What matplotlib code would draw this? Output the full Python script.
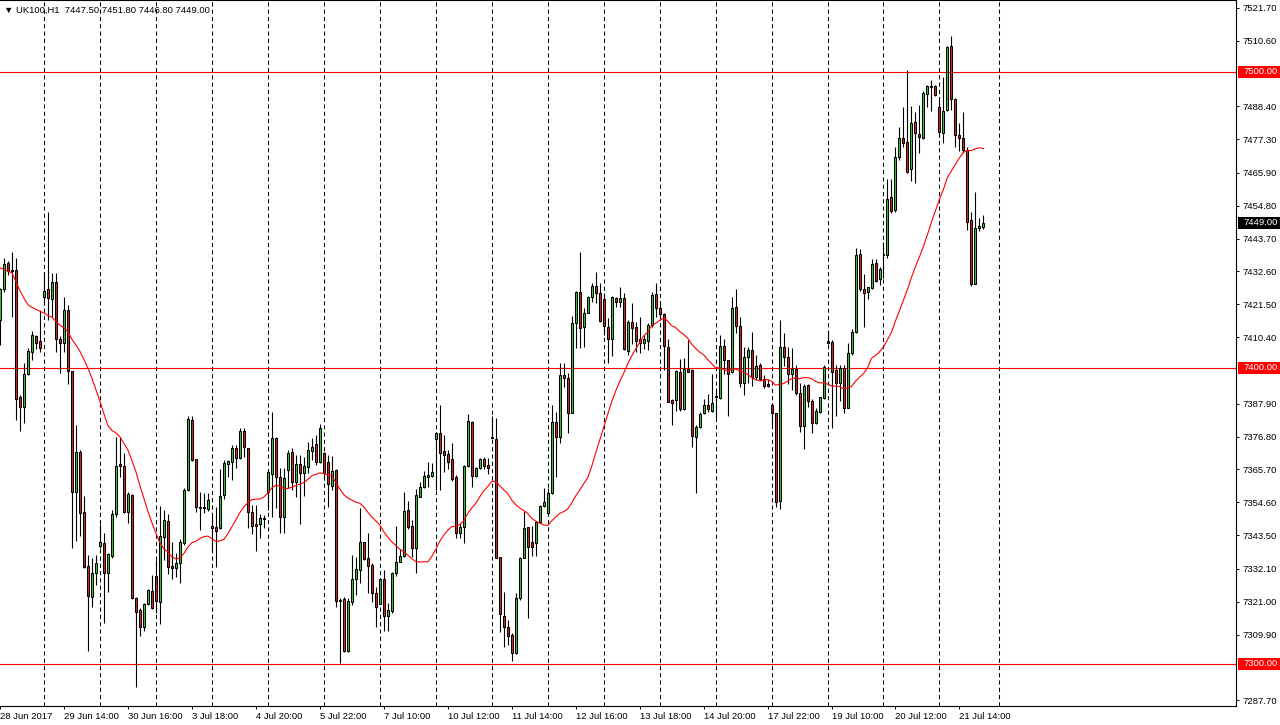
import matplotlib.pyplot as plt
import matplotlib.transforms as mtransforms
from matplotlib.patches import Rectangle
import numpy as np
import pandas as pd

symbol = 'UK100,H1'

opens = [
    7416.2, 7426.6, 7435.4, 7433.1, 7433.1, 7390.1, 7386.9, 7398.0, 7405.5, 7410.8,
    7409.1, 7423.8, 7426.6, 7423.3, 7429.0, 7409.7, 7408.5, 7419.6, 7399.0, 7358.2,
    7371.5, 7351.5, 7333.2, 7322.7, 7330.8, 7340.0, 7340.8, 7330.6, 7336.6, 7350.7,
    7367.5, 7367.0, 7351.5, 7357.1, 7322.2, 7318.2, 7312.4, 7320.2, 7324.7, 7329.7,
    7321.0, 7342.8, 7348.3, 7333.1, 7332.5, 7334.2, 7340.8, 7358.8, 7382.4, 7369.1,
    7353.1, 7353.1, 7352.2, 7346.6, 7346.2, 7345.8, 7357.1, 7367.6, 7368.3, 7372.9,
    7369.5, 7378.7, 7372.9, 7351.3, 7347.3, 7347.2, 7348.9, 7358.0, 7364.1, 7376.3,
    7363.3, 7349.6, 7365.5, 7371.7, 7361.4, 7367.6, 7364.6, 7366.4, 7372.0, 7374.3,
    7368.3, 7371.4, 7368.1, 7360.2, 7365.5, 7321.6, 7321.8, 7304.5, 7321.0, 7328.6,
    7331.8, 7341.1, 7335.7, 7333.4, 7324.1, 7320.3, 7328.6, 7316.2, 7318.0, 7330.6,
    7334.6, 7336.5, 7352.0, 7346.6, 7339.1, 7356.5, 7359.9, 7363.3, 7363.5, 7375.9,
    7377.9, 7371.9, 7371.0, 7369.1, 7363.1, 7344.2, 7346.4, 7367.0, 7381.6, 7363.5,
    7366.1, 7369.1, 7367.2, 7376.6, 7375.9, 7336.0, 7316.3, 7312.4, 7309.8, 7303.6,
    7322.2, 7335.7, 7346.2, 7341.1, 7340.8, 7348.1, 7353.5, 7350.9, 7357.7, 7381.6,
    7376.8, 7397.6, 7396.5, 7384.9, 7415.1, 7425.8, 7413.8, 7418.7, 7424.1, 7427.8,
    7425.2, 7423.2, 7413.9, 7409.7, 7423.5, 7422.2, 7423.5, 7405.8, 7415.4, 7413.9,
    7409.7, 7408.3, 7409.2, 7414.5, 7425.0, 7420.2, 7418.1, 7407.2, 7389.2, 7389.2,
    7398.7, 7386.1, 7399.7, 7399.3, 7376.8, 7380.2, 7384.9, 7387.5, 7385.5, 7390.3,
    7389.8, 7407.4, 7402.7, 7398.5, 7420.5, 7414.2, 7395.0, 7403.8, 7406.1, 7396.9,
    7400.9, 7396.2, 7394.5, 7387.5, 7384.7, 7355.2, 7407.2, 7403.6, 7397.9, 7399.6,
    7391.7, 7380.4, 7394.3, 7389.0, 7381.5, 7385.2, 7389.8, 7409.1, 7408.9, 7399.3,
    7395.0, 7399.9, 7386.6, 7405.2, 7412.3, 7438.4, 7426.6, 7425.8, 7426.9, 7435.4,
    7430.0, 7438.2, 7438.2, 7457.7, 7453.4, 7471.2, 7477.6, 7476.2, 7467.1, 7483.0,
    7479.1, 7477.8, 7492.5, 7495.0, 7495.3, 7488.1, 7479.3, 7487.2, 7508.9, 7490.8,
    7478.7, 7477.6, 7473.6, 7450.0, 7428.4, 7447.2, 7447.5,
]
highs = [
    7427.0, 7437.1, 7436.1, 7439.3, 7437.1, 7390.9, 7401.6, 7406.6, 7412.5, 7411.1,
    7419.6, 7432.5, 7452.8, 7432.0, 7432.0, 7410.8, 7423.9, 7421.3, 7399.0, 7380.7,
    7372.3, 7356.8, 7336.8, 7335.7, 7336.8, 7347.3, 7344.4, 7337.4, 7352.0, 7376.6,
    7376.6, 7371.2, 7358.1, 7357.4, 7322.6, 7318.9, 7320.6, 7325.2, 7330.1, 7335.1,
    7353.4, 7352.0, 7350.7, 7341.3, 7337.4, 7342.2, 7359.4, 7383.9, 7383.8, 7369.2,
    7358.2, 7357.7, 7357.7, 7350.3, 7353.1, 7365.7, 7368.9, 7368.9, 7374.0, 7374.0,
    7379.6, 7379.6, 7373.0, 7353.7, 7353.7, 7350.6, 7350.3, 7365.7, 7385.2, 7376.8,
    7366.1, 7366.1, 7372.3, 7372.9, 7370.6, 7370.6, 7369.8, 7375.1, 7376.3, 7377.4,
    7381.0, 7371.7, 7370.6, 7370.3, 7365.7, 7322.2, 7322.7, 7322.2, 7336.8, 7336.2,
    7352.6, 7341.3, 7344.1, 7334.0, 7326.1, 7329.0, 7331.7, 7320.5, 7331.2, 7346.6,
    7338.9, 7358.2, 7355.1, 7348.6, 7359.2, 7361.6, 7365.3, 7368.3, 7367.8, 7378.5,
    7387.5, 7377.4, 7372.3, 7374.6, 7363.8, 7347.5, 7367.2, 7384.5, 7382.2, 7366.6,
    7369.5, 7370.0, 7369.5, 7383.9, 7383.0, 7336.0, 7324.4, 7314.9, 7310.4, 7324.1,
    7336.0, 7351.8, 7346.4, 7346.6, 7348.1, 7353.7, 7359.4, 7359.4, 7387.5, 7385.0,
    7401.6, 7401.6, 7398.4, 7417.6, 7426.0, 7439.1, 7420.2, 7424.3, 7428.6, 7432.3,
    7428.6, 7425.2, 7416.8, 7424.3, 7423.9, 7427.3, 7425.2, 7416.2, 7421.9, 7415.6,
    7417.3, 7411.1, 7415.1, 7425.8, 7428.6, 7422.7, 7418.7, 7409.7, 7389.4, 7399.3,
    7402.9, 7403.3, 7409.5, 7399.6, 7380.7, 7385.2, 7389.4, 7391.2, 7397.9, 7393.1,
    7411.1, 7409.7, 7402.7, 7423.9, 7426.7, 7417.1, 7407.2, 7407.2, 7412.1, 7404.4,
    7401.8, 7397.6, 7396.2, 7388.3, 7384.7, 7416.2, 7411.7, 7407.2, 7406.6, 7401.0,
    7394.8, 7394.6, 7394.6, 7389.4, 7386.4, 7390.3, 7401.0, 7412.3, 7409.5, 7401.0,
    7401.0, 7401.0, 7408.3, 7413.1, 7440.5, 7440.1, 7431.8, 7427.5, 7436.7, 7436.7,
    7434.0, 7442.7, 7463.7, 7463.7, 7474.8, 7481.5, 7488.3, 7500.7, 7488.5, 7486.6,
    7488.8, 7493.7, 7495.6, 7497.3, 7495.6, 7491.6, 7498.4, 7508.9, 7512.3, 7491.1,
    7482.7, 7486.6, 7474.5, 7452.8, 7459.6, 7450.6, 7451.8,
]
lows = [
    7407.8, 7425.8, 7431.4, 7417.1, 7382.4, 7378.8, 7381.5, 7397.6, 7402.7, 7406.3,
    7405.5, 7421.3, 7416.2, 7417.3, 7405.5, 7398.4, 7405.5, 7394.5, 7339.1, 7341.6,
    7343.2, 7332.4, 7304.5, 7319.4, 7326.7, 7339.1, 7313.9, 7324.4, 7335.7, 7349.6,
    7363.3, 7351.1, 7347.7, 7321.9, 7292.1, 7309.6, 7311.3, 7319.9, 7318.5, 7317.1,
    7313.4, 7335.1, 7330.4, 7328.7, 7329.5, 7327.5, 7340.2, 7358.4, 7368.7, 7351.5,
    7345.3, 7350.9, 7351.8, 7338.5, 7332.7, 7345.5, 7355.6, 7363.3, 7362.2, 7366.1,
    7369.1, 7369.8, 7345.8, 7343.9, 7338.0, 7342.5, 7345.8, 7352.0, 7349.8, 7352.6,
    7344.3, 7344.3, 7359.4, 7358.8, 7356.5, 7347.3, 7356.8, 7364.4, 7368.9, 7367.2,
    7368.0, 7362.2, 7353.0, 7358.8, 7319.2, 7300.2, 7304.0, 7304.0, 7319.9, 7323.3,
    7327.3, 7335.1, 7323.9, 7320.8, 7312.4, 7320.2, 7311.3, 7311.2, 7317.3, 7329.8,
    7334.4, 7336.1, 7345.5, 7336.2, 7330.8, 7356.3, 7359.4, 7359.9, 7363.1, 7358.8,
    7358.8, 7365.0, 7365.8, 7361.9, 7342.5, 7342.5, 7340.8, 7366.4, 7359.7, 7363.1,
    7365.9, 7365.8, 7364.1, 7375.9, 7335.7, 7310.9, 7305.8, 7306.4, 7301.1, 7303.4,
    7321.6, 7335.7, 7315.6, 7336.5, 7336.5, 7347.5, 7353.1, 7350.7, 7357.4, 7363.3,
    7374.8, 7393.7, 7377.9, 7384.7, 7406.6, 7406.9, 7407.2, 7418.5, 7422.4, 7422.1,
    7415.6, 7411.1, 7401.8, 7404.1, 7420.7, 7420.7, 7406.1, 7404.4, 7408.1, 7405.5,
    7405.2, 7406.4, 7406.1, 7413.9, 7417.3, 7416.2, 7399.3, 7388.6, 7380.7, 7385.5,
    7385.5, 7385.8, 7398.7, 7373.4, 7357.9, 7379.6, 7384.5, 7385.2, 7385.2, 7383.0,
    7389.4, 7397.9, 7383.6, 7398.2, 7411.7, 7393.5, 7390.9, 7394.8, 7393.9, 7396.0,
    7395.7, 7393.3, 7393.5, 7380.7, 7353.1, 7352.2, 7400.8, 7394.6, 7392.6, 7390.9,
    7378.5, 7372.5, 7386.9, 7377.9, 7381.1, 7384.9, 7389.4, 7408.1, 7379.6, 7383.6,
    7388.9, 7384.9, 7386.4, 7404.4, 7411.7, 7426.1, 7414.0, 7423.2, 7426.6, 7429.2,
    7428.0, 7430.3, 7437.3, 7452.5, 7452.8, 7470.3, 7474.6, 7466.0, 7463.3, 7462.6,
    7472.7, 7477.3, 7488.3, 7486.8, 7491.9, 7478.1, 7475.9, 7486.8, 7487.2, 7474.8,
    7473.4, 7472.5, 7446.6, 7427.7, 7428.4, 7446.1, 7446.8,
]
closes = [
    7426.7, 7435.0, 7432.9, 7432.9, 7389.6, 7386.7, 7398.0, 7405.7, 7411.1, 7408.5,
    7406.9, 7426.0, 7423.5, 7429.0, 7409.7, 7408.5, 7419.6, 7399.0, 7358.2, 7371.5,
    7350.9, 7332.9, 7323.1, 7330.6, 7334.0, 7341.1, 7330.6, 7337.1, 7350.7, 7367.0,
    7367.0, 7351.5, 7357.3, 7322.2, 7317.5, 7312.4, 7320.2, 7325.0, 7318.8, 7321.3,
    7343.2, 7348.6, 7332.9, 7332.5, 7334.2, 7341.1, 7358.8, 7382.7, 7368.9, 7353.1,
    7352.6, 7352.6, 7355.4, 7345.8, 7345.0, 7356.7, 7367.8, 7368.6, 7372.9, 7369.5,
    7378.7, 7373.2, 7351.5, 7346.6, 7346.7, 7349.2, 7349.4, 7364.8, 7376.3, 7363.1,
    7349.8, 7362.7, 7371.4, 7361.6, 7367.6, 7364.6, 7366.9, 7372.3, 7373.4, 7368.3,
    7379.6, 7364.4, 7360.7, 7365.3, 7321.4, 7321.4, 7304.5, 7321.3, 7328.6, 7332.0,
    7341.1, 7335.4, 7333.2, 7323.9, 7319.2, 7328.6, 7316.2, 7318.2, 7330.6, 7334.4,
    7336.5, 7351.7, 7346.2, 7339.1, 7357.0, 7359.7, 7363.5, 7363.8, 7365.0, 7378.1,
    7371.4, 7370.6, 7368.3, 7362.4, 7344.2, 7346.4, 7367.0, 7382.1, 7363.5, 7366.1,
    7369.1, 7366.8, 7366.1, 7376.3, 7335.7, 7316.8, 7312.6, 7309.6, 7303.8, 7322.2,
    7335.7, 7345.8, 7339.6, 7339.4, 7347.9, 7353.4, 7354.8, 7357.7, 7381.6, 7376.8,
    7397.6, 7396.5, 7384.7, 7415.1, 7425.8, 7413.4, 7418.5, 7423.9, 7427.8, 7425.2,
    7416.0, 7414.2, 7409.7, 7423.9, 7422.2, 7423.5, 7406.4, 7415.4, 7413.4, 7409.2,
    7408.5, 7409.7, 7414.5, 7424.7, 7420.2, 7418.1, 7407.5, 7388.6, 7388.3, 7399.0,
    7386.1, 7399.7, 7398.7, 7377.1, 7380.2, 7384.5, 7387.5, 7386.0, 7388.1, 7390.1,
    7407.5, 7402.7, 7397.9, 7420.2, 7414.3, 7395.0, 7403.6, 7406.1, 7396.9, 7400.7,
    7396.2, 7393.9, 7394.0, 7384.7, 7354.8, 7407.2, 7403.6, 7397.9, 7399.6, 7391.5,
    7380.5, 7393.9, 7389.0, 7381.3, 7385.6, 7390.1, 7400.2, 7408.5, 7398.7, 7395.0,
    7399.9, 7386.6, 7404.9, 7412.3, 7438.2, 7426.6, 7425.2, 7427.3, 7435.1, 7429.5,
    7433.3, 7438.5, 7457.1, 7453.1, 7471.4, 7477.6, 7475.9, 7466.3, 7482.7, 7479.3,
    7478.1, 7493.0, 7495.3, 7495.3, 7492.2, 7479.6, 7486.8, 7508.5, 7490.8, 7478.7,
    7477.6, 7473.6, 7449.4, 7428.4, 7447.2, 7448.0, 7449.0,
]
# closes before the visible window, estimated from where the MA line starts
prev_closes = [7445, 7449, 7448, 7462, 7458, 7460, 7457, 7432, 7424, 7424,
               7440, 7444, 7443, 7443, 7440, 7441, 7430, 7420, 7416, 7404,
               7398, 7394, 7412]
ma_period = 24

level_lines = [7500.0, 7400.0, 7300.0]
price_ticks = [7521.70, 7510.60, 7488.40, 7477.30, 7465.90, 7454.80, 7443.70,
               7432.60, 7421.50, 7410.40, 7387.90, 7376.80, 7365.70, 7354.60,
               7343.50, 7332.10, 7321.00, 7309.90, 7287.70]
time_label_bars = [0, 16, 32, 48, 64, 80, 96, 112, 128, 144, 160, 176, 192, 208, 224, 240]
time_labels = ['28 Jun 2017', '29 Jun 14:00', '30 Jun 16:00', '3 Jul 18:00',
               '4 Jul 20:00', '5 Jul 22:00', '7 Jul 10:00', '10 Jul 12:00',
               '11 Jul 14:00', '12 Jul 16:00', '13 Jul 18:00', '14 Jul 20:00',
               '17 Jul 22:00', '19 Jul 10:00', '20 Jul 12:00', '21 Jul 14:00']
day_start_bars = [11, 25, 39, 53, 67, 81, 95, 109, 123, 137, 151, 165, 179,
                  193, 207, 221, 235, 250]

plt.rcParams['font.family'] = ['Liberation Sans', 'DejaVu Sans']
fs = 6.8

o = np.array(opens)
h = np.array(highs)
l = np.array(lows)
c = np.array(closes)
x = np.arange(len(c))

ma = pd.Series(prev_closes + closes).rolling(ma_period).mean().to_numpy()[len(prev_closes):]

W, H = 1280, 725
fig = plt.figure(figsize=(W / 100, H / 100), dpi=100)
fig.patch.set_facecolor('white')
ax = fig.add_axes([0, 19 / H, 1236 / W, 706 / H])
ax.set_xlim(0.175, 0.175 + 1236 / 4)
ax.set_ylim(7285.8, 7524.3)

for b in day_start_bars:
    ax.axvline(b, color='black', lw=0.75, ls=(0, (4, 3)), zorder=1)
for lv in level_lines:
    ax.axhline(lv, color='#ff0000', lw=0.8, zorder=2)

ax.vlines(x, l, h, color='black', lw=0.8, zorder=3)
up = c >= o
cols = np.where(up, '#2ecc2e', '#e02020')
body_h = np.maximum(np.abs(c - o), 0.3)
ax.bar(x, body_h, bottom=np.minimum(o, c), width=0.5, color=cols,
       edgecolor='black', linewidth=0.75, zorder=4)

ax.plot(x, ma, color='#ff0000', lw=0.8, zorder=5)

# axes frame like the terminal
ax.spines['left'].set_visible(False)
for s in ['top', 'right', 'bottom']:
    ax.spines[s].set_linewidth(0.8)

ax.yaxis.tick_right()
ax.set_yticks(price_ticks)
ax.set_yticklabels(['%.2f' % v for v in price_ticks])
ax.tick_params(axis='y', direction='out', length=2.5, width=0.7, pad=2.5, labelsize=fs)

ax.set_xticks(time_label_bars)
ax.set_xticklabels(time_labels, ha='left')
ax.tick_params(axis='x', direction='out', length=2.5, width=0.7, pad=1.5, labelsize=fs)

# price tags on the right scale
tr = mtransforms.blended_transform_factory(fig.transFigure, ax.transData)
tag_h = 12 * 0.3378
tags = [(v, '#ff0000') for v in level_lines] + [(c[-1], 'black')]
for v, fc in tags:
    fig.patches.append(Rectangle((1238 / W, v - tag_h / 2), 42 / W, tag_h,
                                 transform=tr, facecolor=fc, edgecolor='none',
                                 zorder=10))
    fig.text(1243 / W, v, '%.2f' % v, transform=tr, color='white', fontsize=fs,
             va='center', ha='left', zorder=11)

header = '\u25bc %s  %.2f %.2f %.2f %.2f' % (symbol, o[-1], h[-1], l[-1], c[-1])
fig.text(4 / W, 1 - 10 / H, header, fontsize=fs, va='center', ha='left')

fig.savefig('out.png', dpi=100, facecolor='white')
